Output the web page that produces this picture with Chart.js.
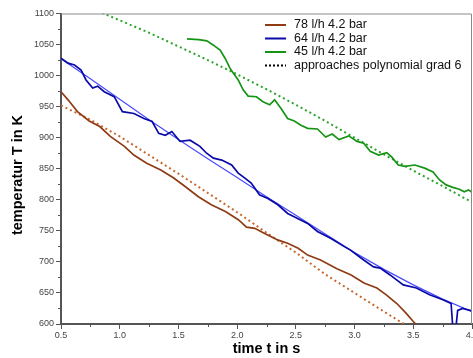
<!DOCTYPE html>
<html><head><meta charset="utf-8">
<script src="https://cdn.jsdelivr.net/npm/chart.js@4.4.1/dist/chart.umd.min.js"></script>
<style>html,body{margin:0;padding:0;background:#fff;overflow:hidden}canvas{display:block}</style>
</head><body>
<canvas id="c" width="473" height="358"></canvas>
<script>
// ---- data (time in s, temperature in K) ----
const brownTime = [0.5,0.56,0.64,0.74,0.83,0.92,1.04,1.12,1.23,1.35,1.46,1.56,1.67,1.78,1.9,2.01,2.08,2.15,2.23,2.35,2.43,2.52,2.6,2.71,2.85,2.97,3.08,3.19,3.27,3.36,3.44,3.5,3.53];
const brownTemp = [974,961,942,927,918,902,886,872,859,848,835,821,805,792,781,768,756,754,746,735,730,722,711,703,689,679,666,658,647,633,617,604,598];
const brownFitTime = [0.5,0.75,1.0,1.25,1.5,1.75,2.0,2.25,2.5,2.75,3.0,3.25,3.43];
const brownFitTemp = [952,929,902,872,842,811,780,747,715,680,650,620,599];

const blueTime = [0.5,0.56,0.615,0.671,0.713,0.77,0.812,0.868,0.953,1.023,1.121,1.206,1.276,1.332,1.388,1.444,1.514,1.599,1.683,1.74,1.798,1.869,1.953,2.009,2.066,2.12,2.19,2.262,2.347,2.43,2.515,2.6,2.684,2.796,2.909,2.965,3.078,3.162,3.218,3.302,3.415,3.527,3.639,3.752,3.822,3.835,3.865,3.878,3.92,4.0];
const blueTemp = [1028,1020,1017,1009,993,980,983,974,966,942,939,931,926,907,904,910,894,896,886,875,867,864,856,843,835,827,808,802,792,778,770,762,749,738,725,719,703,692,690,679,663,658,647,639,633,598,598,622,625,621];
const blueFitTime = [0.5,0.75,1.0,1.25,1.5,1.75,2.0,2.25,2.5,2.75,3.0,3.25,3.5,3.75,4.0];
const blueFitTemp = [1027,995,962,929,897,866,836,805,775,745,715,688,663,640,620];

const greenTime = [1.573,1.672,1.742,1.798,1.855,1.897,1.939,1.967,2.009,2.051,2.094,2.164,2.22,2.277,2.319,2.374,2.43,2.487,2.543,2.6,2.684,2.754,2.81,2.867,2.951,3.021,3.078,3.133,3.204,3.274,3.316,3.372,3.428,3.513,3.597,3.668,3.724,3.78,3.837,3.892,3.934,3.97,4.0];
const greenTemp = [1059,1058,1056,1049,1041,1028,1012,1004,993,977,967,966,958,953,961,947,931,927,920,915,914,901,906,897,903,894,891,878,872,876,869,856,854,856,851,845,832,824,820,817,813,816,812];
const greenFitTime = [0.85,1.0,1.25,1.5,1.75,2.0,2.25,2.5,2.75,3.0,3.25,3.5,3.75,4.0];
const greenFitTemp = [1101,1089,1069,1047,1025,1002,978,953,927,900,873,847,822,796];

const legendLabels = ['78 l/h 4.2 bar','64 l/h 4.2 bar','45 l/h 4.2 bar','approaches polynomial grad 6'];
const xAxisTitle = 'time t in s';
const yAxisTitle = 'temperatur T in K';

const COL = {brown:'#8f3c14', brownFit:'#c8662e', blue:'#0a0aa8', blueFit:'#4a4aff', green:'#169416', greenFit:'#2aa52a'};

function pts(ts, ks){ return ts.map((t,i)=>({x:t,y:ks[i]})); }

const FONT = "Arial, 'Liberation Sans', Helvetica, sans-serif";

const deco = {
  id:'deco',
  afterDraw(chart){
    const {ctx, chartArea:a, scales:{x,y}} = chart;
    ctx.save();
    // frame top/right
    ctx.strokeStyle='#8a8a8a'; ctx.lineWidth=1;
    ctx.beginPath();
    ctx.moveTo(a.left, a.top+0.5); ctx.lineTo(a.right-0.5, a.top+0.5); ctx.lineTo(a.right-0.5, a.bottom);
    ctx.stroke();
    // minor ticks
    ctx.strokeStyle='#555'; ctx.lineWidth=1;
    ctx.beginPath();
    for (let v=625; v<1100; v+=50){ const py=Math.round(y.getPixelForValue(v))+0.5; ctx.moveTo(a.left-3,py); ctx.lineTo(a.left,py); }
    for (let v=0.75; v<4; v+=0.5){ const px=Math.round(x.getPixelForValue(v))+0.5; ctx.moveTo(px,a.bottom); ctx.lineTo(px,a.bottom+3); }
    ctx.stroke();
    // axis titles
    ctx.fillStyle='#000';
    ctx.font = "bold 14.5px " + FONT;
    ctx.textAlign='center'; ctx.textBaseline='middle';
    ctx.fillText(xAxisTitle, (a.left+a.right)/2, 349);
    ctx.save();
    ctx.translate(18, 175); ctx.rotate(-Math.PI/2);
    ctx.fillText(yAxisTitle, 0, 0);
    ctx.restore();
    // legend
    const cols = [COL.brown, COL.blue, COL.green, '#000'];
    ctx.font = "12.5px " + FONT;
    ctx.textAlign='left';
    legendLabels.forEach((lab,i)=>{
      const ly = 25 + 13.5*i;
      ctx.strokeStyle = cols[i]; ctx.lineWidth = 2;
      ctx.setLineDash(i===3 ? [2,2] : []);
      ctx.beginPath(); ctx.moveTo(265, ly); ctx.lineTo(286, ly); ctx.stroke();
      ctx.setLineDash([]);
      ctx.fillStyle = '#111';
      ctx.fillText(lab, 294, ly);
    });
    ctx.restore();
  }
};

const lineDs = (data, color, width, dash) => ({
  data, borderColor: color, backgroundColor: color, borderWidth: width,
  borderDash: dash || [], pointRadius: 0, tension: 0, fill: false
});

new Chart(document.getElementById('c'), {
  type: 'line',
  data: {
    datasets: [
      lineDs(pts(brownTime, brownTemp), COL.brown, 1.7),
      lineDs(pts(blueTime, blueTemp), COL.blue, 1.7),
      lineDs(pts(greenTime, greenTemp), COL.green, 1.7),
      lineDs(pts(blueFitTime, blueFitTemp), COL.blueFit, 1.2),
      lineDs(pts(brownFitTime, brownFitTemp), COL.brownFit, 2, [2,3]),
      lineDs(pts(greenFitTime, greenFitTemp), COL.greenFit, 2, [2,3])
    ]
  },
  options: {
    responsive: false, animation: false, devicePixelRatio: 1,
    layout: { padding: { left: 0, top: 13.5, right: 1, bottom: 0 } },
    plugins: { legend: { display: false }, tooltip: { enabled: false } },
    scales: {
      x: {
        type: 'linear', min: 0.5, max: 4,
        ticks: { stepSize: 0.5, callback: v => Number(v).toFixed(1), font: { size: 9, family: FONT }, color: '#444', padding: 1, maxRotation: 0, autoSkip: false },
        grid: { display: true, drawOnChartArea: false, drawTicks: true, tickLength: 5, color: '#555', tickColor: '#555' },
        border: { display: true, color: '#555', width: 2 },
        afterFit(s){ s.height = 34; s.paddingLeft = 0; s.paddingRight = 0; }
      },
      y: {
        type: 'linear', min: 600, max: 1100,
        ticks: { stepSize: 50, callback: v => String(Math.round(v)), font: { size: 9, family: FONT }, color: '#444', padding: 2 },
        grid: { display: true, drawOnChartArea: false, drawTicks: true, tickLength: 5, color: '#555', tickColor: '#555' },
        border: { display: true, color: '#555', width: 2 },
        afterFit(s){ s.width = 61; s.paddingTop = 0; s.paddingBottom = 0; }
      }
    }
  },
  plugins: [deco]
});
</script>
</body></html>
